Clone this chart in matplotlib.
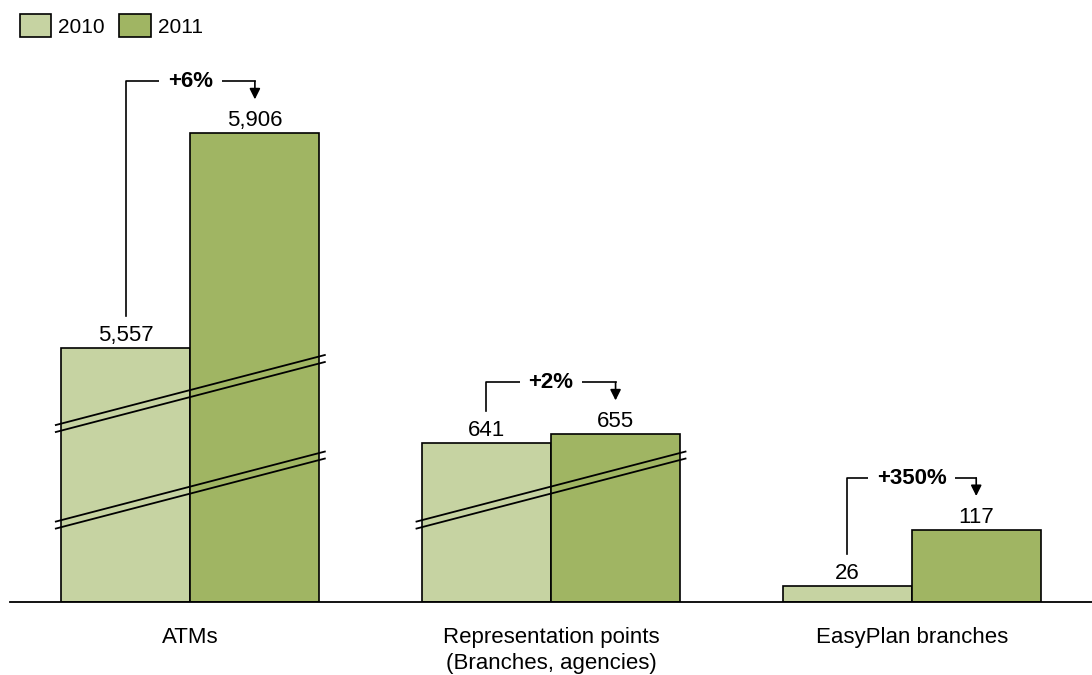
import matplotlib
matplotlib.use("Agg")
import matplotlib.pyplot as plt
from matplotlib.patches import Patch
import numpy as np

plt.rcParams['font.family'] = ['Liberation Sans', 'DejaVu Sans']

# data
categories = ["ATMs", "Representation points\n(Branches, agencies)", "EasyPlan branches"]
years = ["2010", "2011"]
values_2010 = [5557, 641, 26]
values_2011 = [5906, 655, 117]
colors = ["#c6d3a2", "#a0b563"]

# axis breaks (value ranges squeezed out of the y axis)
breaks = [(181.5, 565.0), (721.0, 5483.5)]

# piecewise scale: every break collapses to one unit
kv = [-1e5, 0.0]
kt = [-1e5, 0.0]
for lo, hi in breaks:
    kt.append(kt[-1] + lo - kv[-1])
    kv.append(lo)
    kt.append(kt[-1] + 1.0)
    kv.append(hi)
kt.append(kt[-1] + 1e5 - kv[-1])
kv.append(1e5)
kv = np.array(kv)
kt = np.array(kt)


def fwd(v):
    return np.interp(v, kv, kt)


def inv(t):
    return np.interp(t, kt, kv)


fig = plt.figure(figsize=(10.92, 6.75), dpi=100)
ax = fig.add_axes([10 / 1092, 1 - 602 / 675, 1 - 10 / 1092, 532 / 675])
ax.set_yscale('function', functions=(fwd, inv))
ax.set_xlim(-0.5, 2.5)
ax.set_ylim(0, inv(865))

x = np.arange(len(categories))
w = 0.358
ax.bar(x - w / 2, values_2010, w, color=colors[0], edgecolor='black', linewidth=1.2, zorder=2)
ax.bar(x + w / 2, values_2011, w, color=colors[1], edgecolor='black', linewidth=1.2, zorder=2)

for xs, vals in ((x - w / 2, values_2010), (x + w / 2, values_2011)):
    for xi, v in zip(xs, vals):
        ax.annotate(f"{v:,}", (xi, v), xytext=(0, 5), textcoords='offset points',
                    ha='center', va='baseline', fontsize=16)

for s in ['left', 'right', 'top']:
    ax.spines[s].set_visible(False)
ax.spines['bottom'].set_linewidth(1.3)
ax.set_yticks([])
ax.set_xticks(x)
ax.set_xticklabels(categories, fontsize=16, linespacing=1.3)
ax.tick_params(axis='x', length=0, pad=18)
ax.yaxis.set_minor_locator(matplotlib.ticker.NullLocator())


def shift(px, py, dx, dy):
    # move a data point by some pixels on screen
    d = ax.transData.transform((px, py)) + np.array([dx, dy])
    return ax.transData.inverted().transform(d)


# break marks: double slanted lines across the pair of bars
for i in range(len(categories)):
    low = min(values_2010[i], values_2011[i])
    for lo, hi in breaks:
        if low <= hi:
            continue
        mid = inv(fwd(lo) + 0.5)
        for off in (-3.5, 3.5):
            p0 = shift(x[i], mid, -134.5, -35 + off)
            p1 = shift(x[i], mid, 134.5, 35 + off)
            ax.plot([p0[0], p1[0]], [p0[1], p1[1]], color='black', lw=1.3,
                    zorder=3, clip_on=False)

# growth brackets
for i in range(len(categories)):
    v0, v1 = values_2010[i], values_2011[i]
    x0, x1 = x[i] - w / 2, x[i] + w / 2
    a = shift(x0, v0, 0, 32)
    top = max(ax.transData.transform((x0, v0))[1], ax.transData.transform((x1, v1))[1])
    hy = ax.transData.inverted().transform((0, top + 52))[1]
    tip = shift(x1, v1, 0, 34)
    ax.plot([a[0], x0, x1], [a[1], hy, hy], color='black', lw=1.2, zorder=3, clip_on=False)
    ax.annotate('', xy=(x1, tip[1]), xytext=(x1, hy),
                arrowprops=dict(arrowstyle='-|>', color='black', lw=1.2,
                                mutation_scale=16, shrinkA=0, shrinkB=0),
                annotation_clip=False)
    pct = round((v1 / v0 - 1) * 100)
    ax.text(x[i], hy, f"+{pct}%", ha='center', va='center', fontsize=16,
            fontweight='bold', zorder=4,
            bbox=dict(boxstyle='square,pad=0.4', fc='white', ec='none'))

handles = [Patch(facecolor=c, edgecolor='black', linewidth=1.2) for c in colors]
fig.legend(handles, years, loc='upper left', bbox_to_anchor=(0.018, 0.979),
           ncol=2, frameon=False, fontsize=15, handlelength=1.5, handleheight=1.3,
           handletextpad=0.35, columnspacing=0.7, borderpad=0, borderaxespad=0)

fig.savefig("out.png", dpi=100)
